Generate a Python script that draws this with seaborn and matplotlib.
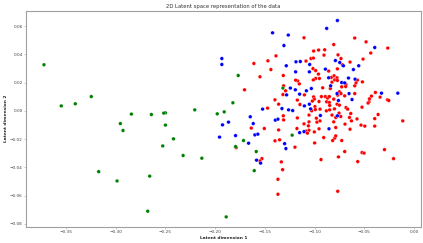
import numpy as np
import pandas as pd
import matplotlib
matplotlib.use("Agg")
import matplotlib.pyplot as plt
import seaborn as sns

# latent coordinates, one pair of arrays per class
red_x = [-0.1611, -0.1550, -0.1705, -0.1637, -0.1788, -0.1107, -0.1470, -0.1389, -0.1440, -0.1315,
         -0.1010, -0.0960, -0.0899, -0.0906, -0.0808, -0.1037, -0.1013, -0.1087, -0.1171, -0.1191,
         -0.1154, -0.1017, -0.0990, -0.0962, -0.0990, -0.0952, -0.1013, -0.0859, -0.0832, -0.0805,
         -0.0826, -0.0798, -0.0842, -0.1312, -0.1319, -0.1292, -0.0919, -0.1103, -0.1010, -0.1003,
         -0.0932, -0.0892, -0.0869, -0.0852, -0.0808, -0.1399, -0.1362, -0.1174, -0.1148, -0.0879,
         -0.0852, -0.0849, -0.0946, -0.0882, -0.0801, -0.1473, -0.1030, -0.0997, -0.0993, -0.0956,
         -0.1023, -0.0597, -0.0483, -0.0265, -0.0436, -0.0765, -0.0735, -0.0721, -0.0644, -0.0771,
         -0.0513, -0.0775, -0.0771, -0.0570, -0.0584, -0.0520, -0.0685, -0.0688, -0.0597, -0.0728,
         -0.0751, -0.0768, -0.0735, -0.0597, -0.0698, -0.0389, -0.0429, -0.0449, -0.0453, -0.0463,
         -0.0342, -0.0268, -0.0255, -0.0524, -0.0685, -0.0668, -0.0775, -0.0751, -0.1315, -0.1312,
         -0.1174, -0.1107, -0.1057, -0.1057, -0.0983, -0.0977, -0.0946, -0.0956, -0.1003, -0.1063,
         -0.1057, -0.1178, -0.1087, -0.1073, -0.0909, -0.0849, -0.0826, -0.0808, -0.0798, -0.0819,
         -0.1506, -0.1362, -0.1352, -0.1399, -0.1198, -0.1000, -0.1530, -0.1550, -0.1335, -0.1322,
         -0.0936, -0.1369, -0.1369, -0.0755, -0.0738, -0.0788, -0.0637, -0.0650, -0.0630, -0.0574,
         -0.0362, -0.0396, -0.0114, -0.0695, -0.0644, -0.0534, -0.0496, -0.0396, -0.0788, -0.0788,
         -0.0728, -0.0298, -0.0207, -0.0698, -0.0524, -0.0503, -0.0761, -0.0567, -0.0768]
red_y = [0.0335, 0.0241, 0.0149, -0.0122, -0.0260, 0.0517, 0.0354, 0.0389, 0.0292, 0.0250,
         0.0423, 0.0430, 0.0432, 0.0394, 0.0469, 0.0370, 0.0373, 0.0352, 0.0212, 0.0217,
         0.0191, 0.0299, 0.0285, 0.0260, 0.0229, 0.0229, 0.0219, 0.0281, 0.0236, 0.0248,
         0.0203, 0.0219, 0.0158, 0.0177, 0.0115, 0.0142, 0.0163, 0.0113, 0.0099, 0.0083,
         0.0101, 0.0101, 0.0090, 0.0101, 0.0083, 0.0078, 0.0047, 0.0076, 0.0045, 0.0064,
         0.0059, 0.0038, 0.0012, 0.0000, 0.0014, 0.0019, 0.0000, 0.0030, 0.0009, 0.0066,
         0.0069, 0.0515, 0.0488, 0.0444, 0.0409, 0.0396, 0.0370, 0.0326, 0.0345, 0.0297,
         0.0366, 0.0234, 0.0215, 0.0217, 0.0198, 0.0205, 0.0186, 0.0172, 0.0177, 0.0170,
         0.0135, 0.0111, 0.0122, 0.0122, 0.0106, 0.0130, 0.0104, 0.0085, 0.0064, 0.0055,
         0.0097, 0.0078, 0.0073, 0.0026, 0.0023, 0.0012, 0.0047, 0.0040, -0.0035, -0.0064,
         -0.0050, -0.0092, -0.0078, -0.0030, -0.0052, -0.0080, -0.0071, -0.0127, -0.0149, -0.0106,
         -0.0137, -0.0125, -0.0144, -0.0158, -0.0189, 0.0007, -0.0030, -0.0078, -0.0193, -0.0210,
         -0.0125, -0.0135, -0.0205, -0.0212, -0.0257, -0.0227, -0.0338, -0.0354, -0.0361, -0.0416,
         -0.0345, -0.0484, -0.0590, -0.0016, -0.0040, -0.0047, -0.0019, -0.0047, -0.0071, -0.0057,
         -0.0026, -0.0055, -0.0071, -0.0094, -0.0130, -0.0101, -0.0108, -0.0108, -0.0118, -0.0177,
         -0.0210, -0.0274, -0.0338, -0.0288, -0.0295, -0.0299, -0.0326, -0.0359, -0.0569]

blue_x = [-0.1933, -0.1933, -0.1647, -0.1617, -0.1866, -0.1926, -0.1956, -0.1795, -0.1664, -0.1601,
          -0.1571, -0.1584, -0.1543, -0.1423, -0.1265, -0.1309, -0.0879, -0.1188, -0.1144, -0.1050,
          -0.1285, -0.1191, -0.1053, -0.0892, -0.0791, -0.0839, -0.1244, -0.1194, -0.1033, -0.1083,
          -0.1151, -0.1282, -0.1053, -0.1103, -0.1523, -0.1329, -0.1262, -0.1221, -0.1040, -0.0859,
          -0.0771, -0.0396, -0.0748, -0.0711, -0.0557, -0.0610, -0.0660, -0.0594, -0.0728, -0.0698,
          -0.0654, -0.0775, -0.0328, -0.0164, -0.0624, -0.0761, -0.1395, -0.1369, -0.1302, -0.1289,
          -0.1151, -0.1107, -0.0942, -0.0856, -0.0771]
blue_y = [0.0370, 0.0328, -0.0042, -0.0090, -0.0080, -0.0099, -0.0186, -0.0175, -0.0229, -0.0170,
          -0.0165, -0.0349, -0.0370, 0.0552, 0.0536, 0.0462, 0.0583, 0.0347, 0.0349, 0.0328,
          0.0319, 0.0276, 0.0276, 0.0295, 0.0356, 0.0177, 0.0161, 0.0149, 0.0158, 0.0142,
          0.0118, 0.0113, 0.0047, 0.0035, 0.0012, 0.0016, 0.0007, 0.0002, 0.0014, 0.0234,
          0.0639, 0.0448, 0.0342, 0.0319, 0.0319, 0.0292, 0.0232, 0.0224, 0.0200, 0.0198,
          0.0122, 0.0122, 0.0125, 0.0125, 0.0080, 0.0073, -0.0066, -0.0059, -0.0232, -0.0267,
          -0.0154, -0.0147, -0.0033, -0.0127, -0.0035]

green_x = [-0.3721, -0.3547, -0.3406, -0.3245, -0.2842, -0.2953, -0.2926, -0.3171, -0.2986, -0.1768,
           -0.1822, -0.1909, -0.1979, -0.2205, -0.2500, -0.2517, -0.2641, -0.2500, -0.2419, -0.2527,
           -0.2322, -0.2134, -0.2658, -0.2678, -0.1889, -0.1715, -0.1795, -0.1587, -0.1607, -0.1319,
           -0.1226]
green_y = [0.0326, 0.0035, 0.0050, 0.0101, -0.0023, -0.0090, -0.0139, -0.0430, -0.0496, 0.0250,
           0.0057, -0.0007, -0.0021, 0.0007, -0.0014, -0.0016, -0.0026, -0.0101, -0.0198, -0.0248,
           -0.0316, -0.0335, -0.0462, -0.0710, -0.0750, -0.0210, -0.0253, -0.0288, -0.0423, 0.0161,
           -0.0172]

df = pd.DataFrame({
    "z1": red_x + blue_x + green_x,
    "z2": red_y + blue_y + green_y,
    "label": ["0"] * len(red_x) + ["1"] * len(blue_x) + ["2"] * len(green_x),
})

sns.set_style("white")
plt.rcParams["axes.edgecolor"] = "#a0a0a0"

fig, ax = plt.subplots(figsize=(4.23, 2.43), dpi=100)
fig.subplots_adjust(left=0.0615, right=0.9946, bottom=0.0671, top=0.956)

sns.scatterplot(data=df, x="z1", y="z2", hue="label",
                palette={"0": "red", "1": "blue", "2": "green"},
                s=7, linewidth=0.2, edgecolor="white", legend=False, ax=ax)

ax.set_title("2D Latent space representation of the data", fontsize=3.8, pad=2, color="#333333")
ax.set_xlabel("Latent dimension 1", fontsize=3.2, fontweight="bold", labelpad=1.5)
ax.set_ylabel("Latent dimension 2", fontsize=3.2, fontweight="bold", labelpad=1.5)
ax.tick_params(axis="both", labelsize=3.1, length=1.2, width=0.4, pad=1.2,
               colors="#444444", bottom=True, left=True)
ax.tick_params(color="#a0a0a0")
for sp in ax.spines.values():
    sp.set_linewidth(0.8)

fig.savefig("out.png", dpi=100)
